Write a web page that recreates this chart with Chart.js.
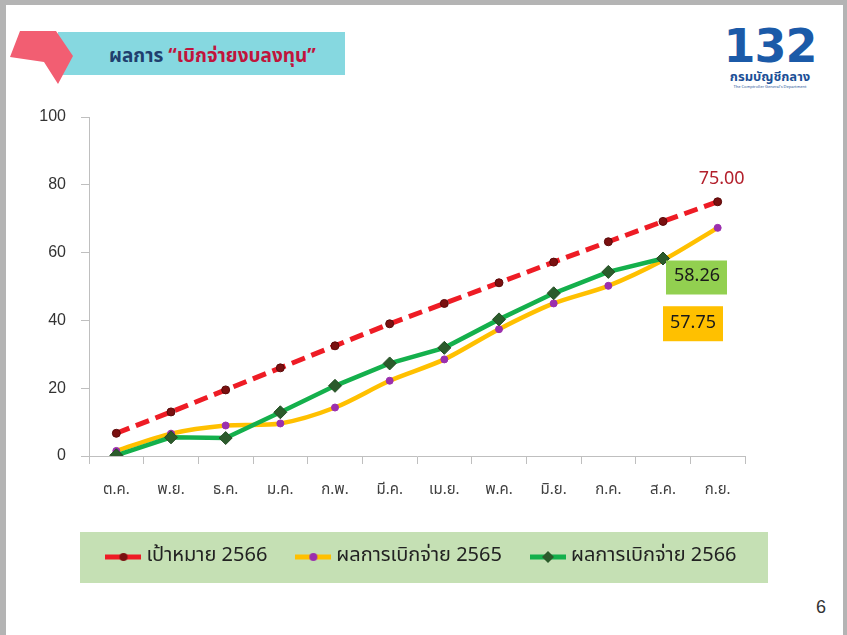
<!DOCTYPE html>
<html>
<head>
<meta charset="utf-8">
<script src="https://cdn.jsdelivr.net/npm/chart.js@4.4.0/dist/chart.umd.min.js"></script>
<style>
  html, body { margin: 0; padding: 0; }
  body { width: 847px; height: 635px; position: relative; overflow: hidden; background: #b4b4b4; font-family: "Noto Sans Thai", "Tahoma", "Loma", "Garuda", "Noto Sans", sans-serif; }
  #slide { position: absolute; left: 6px; top: 5px; width: 837px; height: 630px; background: #ffffff; }
  #banner { position: absolute; left: 58px; top: 32px; width: 287px; height: 43px; background: #86d8e0; }
  #arrow { position: absolute; left: 0; top: 0; }
  #title { position: absolute; left: 109px; top: 43px; font-size: 19px; font-weight: bold; white-space: nowrap; line-height: 28px; }
  #title .a { color: #1f3f6e; }
  #title .b { color: #c0143c; }
  #logo { position: absolute; left: 716px; top: 22px; width: 108px; text-align: center; color: #1b5aa8; }
  #logo .n { font-family: "DejaVu Sans", sans-serif; font-weight: bold; font-size: 46px; line-height: 48px; letter-spacing: -1px; }
  #logo .t { font-size: 13px; font-weight: bold; line-height: 14px; color: #1b4f96; }
  #logo .e { font-size: 4px; line-height: 6px; color: #1b4f96; }
  #page { position: absolute; left: 816px; top: 597px; font-size: 18px; color: #333; font-family: "Liberation Sans", sans-serif; }
  #wrap { position: absolute; left: 0; top: 0; width: 847px; height: 635px; }
</style>
</head>
<body>
<div id="slide"></div>
<div id="banner"></div>
<svg id="arrow" width="90" height="90"><polygon points="20,31 56,31 73,56 58,84 44,62 10,57" fill="#f25e72"/></svg>
<div id="title"><span class="a">ผลการ </span><span class="b">“เบิกจ่ายงบลงทุน”</span></div>
<div id="logo"><div class="n">132</div><div class="t">กรมบัญชีกลาง</div><div class="e">The Comptroller General's Department</div></div>
<div id="page">6</div>
<div id="wrap"><canvas id="c" width="847" height="635"></canvas></div>
<script>
// ---- data ----
const months = ["ต.ค.", "พ.ย.", "ธ.ค.", "ม.ค.", "ก.พ.", "มี.ค.", "เม.ย.", "พ.ค.", "มิ.ย.", "ก.ค.", "ส.ค.", "ก.ย."];
const target2566 = [6.7, 13.0, 19.5, 26.0, 32.5, 39.0, 45.0, 51.1, 57.2, 63.2, 69.2, 75.0];
const actual2565 = [1.5, 6.6, 9.0, 9.6, 14.3, 22.2, 28.5, 37.4, 45.0, 50.2, 57.75, 67.3];
const actual2566 = [0.2, 5.5, 5.3, 12.9, 20.7, 27.3, 31.9, 40.3, 48.0, 54.3, 58.26, null];
const seriesNames = ["เป้าหมาย 2566", "ผลการเบิกจ่าย 2565", "ผลการเบิกจ่าย 2566"];
const yTicks = [0, 20, 40, 60, 80, 100];

const THAI = '"Noto Sans Thai", Tahoma, Loma, Garuda, "Noto Sans", sans-serif';

function legendIcon(lineColor, markerFill, diamond) {
  const c = document.createElement('canvas');
  c.width = 36; c.height = 14;
  const x = c.getContext('2d');
  x.strokeStyle = lineColor; x.lineWidth = 5;
  x.beginPath(); x.moveTo(0, 7); x.lineTo(36, 7); x.stroke();
  x.fillStyle = markerFill;
  x.beginPath();
  if (diamond) { x.moveTo(18, 1); x.lineTo(24, 7); x.lineTo(18, 13); x.lineTo(12, 7); x.closePath(); }
  else { x.arc(18, 7, 4, 0, Math.PI * 2); }
  x.fill();
  return c;
}
const icons = [
  legendIcon('#ee1c25', '#7a1010', false),
  legendIcon('#ffc000', '#9b2fae', false),
  legendIcon('#14b04c', '#2b5b2b', true)
];

const labelPlugin = {
  id: 'valueLabels',
  afterDatasetsDraw(chart) {
    const ctx = chart.ctx;
    ctx.save();
    ctx.font = '18px ' + THAI;
    ctx.textAlign = 'center';
    ctx.textBaseline = 'middle';
    const mT = chart.getDatasetMeta(0).data[11];
    ctx.fillStyle = '#b3202c';
    ctx.fillText(target2566[11].toFixed(2), mT.x + 4, mT.y - 21);
    const mG = chart.getDatasetMeta(2).data[10];
    ctx.fillStyle = '#92d050';
    ctx.fillRect(mG.x + 3, mG.y + 2, 61, 34);
    ctx.fillStyle = '#1a1a1a';
    ctx.fillText(actual2566[10].toFixed(2), mG.x + 34, mG.y + 19);
    const mY = chart.getDatasetMeta(1).data[10];
    ctx.fillStyle = '#ffc000';
    ctx.fillRect(mY.x, mY.y + 46, 60, 35);
    ctx.fillStyle = '#1a1a1a';
    ctx.fillText(actual2565[10].toFixed(2), mY.x + 30, mY.y + 64);
    ctx.restore();
  }
};

const legendBg = {
  id: 'legendBg',
  beforeDraw(chart) {
    const ctx = chart.ctx;
    ctx.save();
    ctx.fillStyle = '#c5e0b4';
    ctx.fillRect(80, 532, 688, 51);
    ctx.restore();
  }
};

new Chart(document.getElementById('c'), {
  type: 'line',
  data: {
    labels: months,
    datasets: [
      { label: seriesNames[0], data: target2566, borderColor: '#ee1c25', borderWidth: 5, borderDash: [14, 7],
        pointRadius: 4, pointBackgroundColor: '#7a1010', pointBorderColor: '#5a0a0a', pointBorderWidth: 1, tension: 0, order: 0 },
      { label: seriesNames[1], data: actual2565, borderColor: '#ffc000', borderWidth: 4.5,
        pointRadius: 3.5, pointBackgroundColor: '#9b2fae', pointBorderColor: '#9b2fae', pointBorderWidth: 1, tension: 0.3, order: 2 },
      { label: seriesNames[2], data: actual2566, borderColor: '#14b04c', borderWidth: 4.5, pointStyle: 'rectRot',
        pointRadius: 6.5, pointBackgroundColor: '#2b5b2b', pointBorderColor: '#234d23', pointBorderWidth: 1, tension: 0, order: 1 }
    ]
  },
  options: {
    responsive: false,
    animation: false,
    layout: { padding: { left: 0, right: 0, top: 117, bottom: 58 } },
    plugins: {
      tooltip: { enabled: false },
      legend: {
        position: 'bottom',
        labels: {
          usePointStyle: true,
          pointStyleWidth: 26,
          padding: 33,
          color: '#222222',
          font: { size: 20, family: THAI },
          generateLabels(chart) {
            const items = Chart.defaults.plugins.legend.labels.generateLabels(chart);
            items.sort((a, b) => a.datasetIndex - b.datasetIndex);
            items.forEach(it => { it.pointStyle = icons[it.datasetIndex]; it.lineWidth = 0; });
            return items;
          }
        }
      }
    },
    scales: {
      x: {
        offset: true,
        afterFit(s) { s.height = 58; },
        grid: { display: true, offset: true, drawOnChartArea: false, tickLength: 8, color: '#bfbfbf' },
        border: { display: true, color: '#bfbfbf', width: 1 },
        ticks: { color: '#404040', font: { size: 15, family: THAI }, padding: 18, maxRotation: 0 }
      },
      y: {
        min: 0, max: 100,
        afterFit(s) { s.width = 89; },
        afterBuildTicks(s) { s.ticks = yTicks.map(v => ({ value: v })); },
        grid: { display: true, drawOnChartArea: false, tickLength: 8, color: '#bfbfbf' },
        border: { display: true, color: '#bfbfbf', width: 1 },
        ticks: { color: '#333333', font: { size: 16, family: '"Liberation Sans", "DejaVu Sans", sans-serif' }, padding: 15 }
      },
      spacer: {
        position: 'right',
        display: true,
        afterFit(s) { s.width = 102; },
        grid: { display: false },
        border: { display: false },
        ticks: { display: false }
      }
    }
  },
  plugins: [legendBg, labelPlugin]
});
</script>
</body>
</html>
